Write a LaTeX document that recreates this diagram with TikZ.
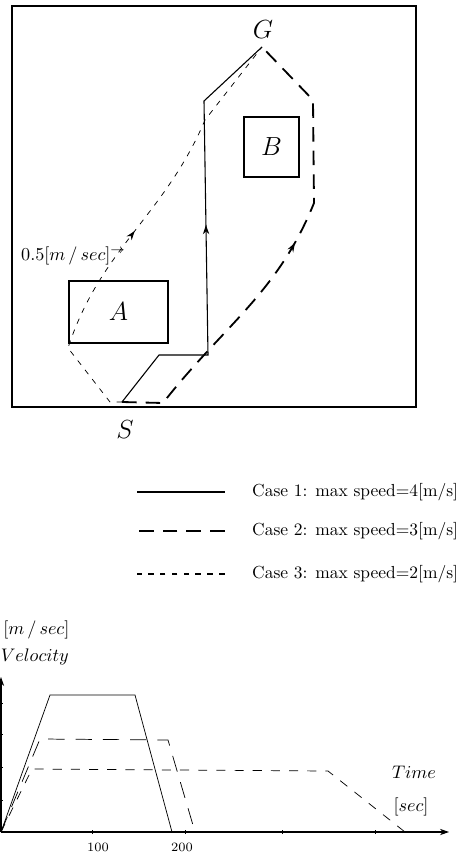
\documentclass[tikz,border=0pt]{standalone}
\usepackage{amsmath,amssymb}
\usepackage{tikz}
\usetikzlibrary{arrows.meta,positioning,decorations.markings,calc}

\tikzset{
	case1/.style={semithick},
	case2/.style={line width=1pt,dash pattern=on 8pt off 5pt},
	case3/.style={thin,dash pattern=on 3pt off 3.5pt},
	obstacle/.style={draw,thick,inner sep=0pt,font=\Large},
	axis/.style={semithick,-{Stealth[length=5pt,width=3.5pt]}},
	midarrow/.style={postaction={decorate,decoration={markings,
		mark=at position #1 with {\arrow{Stealth[length=5pt,width=3.5pt]}}}}},
}

\begin{document}
\begin{tikzpicture}[x=0.55pt,y=-0.55pt]
					\useasboundingbox (0,0) rectangle (461,853);
					%% workspace
					\draw[thick] (12,6) rectangle (416,407);
					\node[obstacle,minimum width=54.5pt,minimum height=34pt] (A) at (118.5,312) {$A$};
					\node[obstacle,minimum width=30.25pt,minimum height=33pt] (B) at (271.5,147) {$B$};
					
					%% start / goal
					\coordinate (S) at (122,402);
					\coordinate (G) at (262,47);
					\node[font=\Large] (Slab) at (125,430) {$S$};
					\node[font=\Large] (Glab) at (263,30) {$G$};
					
					%% case 1 : solid
					\draw[case1,midarrow=0.54] (S) -- (159,355) -- (208,355) -- (204,101) -- (G);
					%% case 2 : long dashes
					\draw[case2,midarrow=0.53] (S) -- (163,403) to[out=52,in=-112] (314,203)
					-- (313,100) -- (G);
					%% case 3 : short dashes
					\draw[case3,midarrow=0.49] (S) -- (110,402) -- (68,348)
					to[out=72,in=-113] (205,120) -- (G);
					\node[anchor=west,inner sep=1pt] (vlab) at (19,256) {$0.5[m\,/\,sec]^{\rightarrow}$};
					
					%% legend
					\foreach \n/\y/\v in {1/492/4,2/531/3,3/574/2}{
						\node[anchor=west,inner sep=1pt,font=\fontsize{9.6pt}{11pt}\selectfont]
						(leg\n) at (250,\y) {Case \n: max speed=\v[m/s]};
						\draw[case\n,line width=0.6pt] ([xshift=-14pt]leg\n.west) -- ++(-48pt,0);
					}
					
					%% velocity profiles
					\coordinate (O) at (1,832);
					\coordinate (tend) at (449,832);
					\coordinate (vend) at (1,677);
					\draw[axis] (O) -- (tend);
					\draw[axis] (O) -- (vend);
					\foreach \x in {92,185,282,375}
					\draw[thin] (\x,830) -- (\x,834);
					\foreach \y in {703,734,767,800}
					\draw[thin] (0,\y) -- (3,\y);
					\node[font=\scriptsize] (t100) at (98,847) {100};
					\node[font=\scriptsize] (t200) at (182,847) {200};
					\draw[thin] (O) -- (50,695) -- (135,695) -- (172,832);
					\draw[thin,dash pattern=on 9pt off 6pt] (O) -- (40,739) -- (168,740) -- (195,832);
					\draw[thin,dash pattern=on 5pt off 5pt] (O) -- (32,769) -- (328,771) -- (405,832);
					\node[anchor=west,inner sep=0pt] (vunit) at (3,630) {$[m\,/\,sec]$};
					\node[anchor=west,inner sep=0pt] (vname) at (0.5,657) {$Velocity$};
					\node (tname) at (414,772) {$Time$};
					\node (tunit) at (411,807) {$[sec]$};
				\end{tikzpicture}
\end{document}
